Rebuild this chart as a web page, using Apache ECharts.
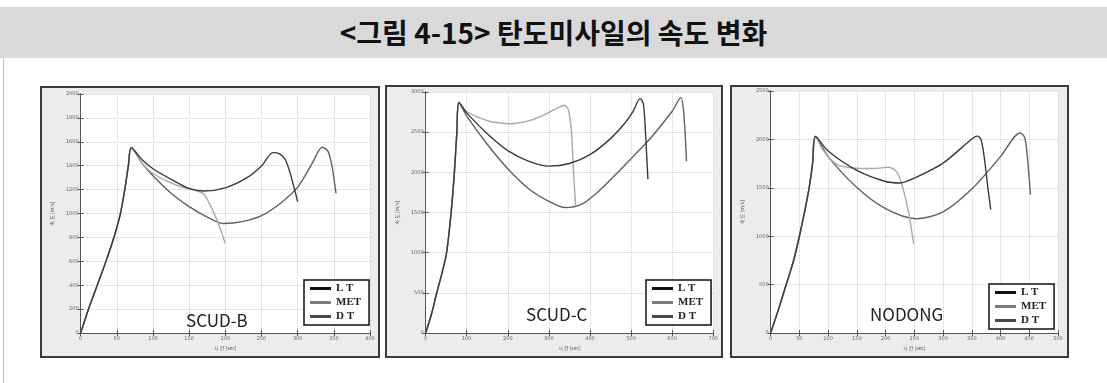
<!DOCTYPE html>
<html>
<head>
<meta charset="utf-8">
<script src="https://cdn.jsdelivr.net/npm/echarts@6/dist/echarts.min.js"></script>
<style>
  html, body { margin: 0; padding: 0; background: #fff; width: 1107px; height: 383px; overflow: hidden; }
  #head {
    position: absolute; left: 0; top: 7px; width: 1107px; height: 51px;
    background: #d9d9d9; text-align: center; line-height: 51px;
    font-family: "Noto Sans CJK KR", sans-serif; font-weight: bold; font-size: 28px; color: #111;
  }
  #edge { position: absolute; left: 3px; top: 58px; width: 1px; height: 325px; background: #bdbdbd; }
  .panel { position: absolute; box-sizing: border-box; border: 2px solid #3a3a3a; background: #ececec; }
</style>
</head>
<body>
<div id="head">&lt;그림 4-15&gt; 탄도미사일의 속도 변화</div>
<div id="edge"></div>
<div id="p1" class="panel" style="left:40px;top:86px;width:340px;height:272px;"></div>
<div id="p2" class="panel" style="left:385px;top:85px;width:338px;height:273px;"></div>
<div id="p3" class="panel" style="left:730px;top:85px;width:339px;height:273px;"></div>
<script>
// Series names
const seriesNames = ['LT', 'MET', 'DT'];

// SCUD-B: time [sec], speed [m/s]
const scudBRise = [[0,0],[12,220],[23,400],[35,600],[46,800],[55,1000],[61,1200],[66,1400],[70,1550]];
const scudB_LT  = [[85,1450],[100,1375],[130,1270],[150,1210],[170,1188],[200,1215],[230,1300],[250,1398],[266,1510],[275,1500],[283,1450],[290,1330],[300,1100]];
const scudB_MET = [[85,1420],[100,1335],[120,1270],[140,1222],[160,1190],[170,1165],[180,1060],[190,920],[200,750]];
const scudB_DT  = [[85,1420],[100,1316],[125,1170],[150,1058],[175,970],[197,917],[225,935],[250,982],[275,1080],[300,1221],[320,1420],[334,1555],[342,1520],[348,1380],[353,1170]];

// SCUD-C
const scudCRise = [[0,0],[15,250],[27,500],[40,750],[51,1000],[62,1500],[70,2000],[76,2500],[81,2870]];
const scudC_LT  = [[100,2740],[150,2480],[200,2270],[250,2140],[300,2078],[350,2110],[400,2220],[450,2420],[486,2620],[505,2760],[522,2918],[530,2850],[535,2500],[541,1914]];
const scudC_MET = [[100,2760],[130,2680],[160,2630],[205,2605],[250,2640],[290,2720],[320,2800],[338,2835],[348,2770],[355,2500],[360,2000],[365,1590]];
const scudC_DT  = [[100,2700],[150,2350],[200,2045],[250,1800],[300,1640],[340,1562],[380,1605],[420,1760],[460,1960],[500,2170],[550,2440],[600,2760],[621,2930],[628,2750],[635,2140]];

// NODONG
const nodongRise = [[0,0],[14,250],[27,500],[40,750],[50,1000],[60,1280],[67,1500],[73,1750],[78,2030]];
const nodong_LT  = [[100,1880],[150,1680],[200,1565],[225,1550],[250,1600],[300,1755],[350,2005],[359,2034],[366,2000],[372,1800],[378,1500],[383,1275]];
const nodong_MET = [[90,1900],[105,1790],[120,1730],[150,1702],[180,1700],[205,1712],[220,1660],[230,1500],[240,1250],[249,916]];
const nodong_DT  = [[100,1822],[150,1503],[200,1285],[253,1181],[300,1252],[350,1487],[400,1822],[434,2067],[442,2020],[447,1800],[452,1430]];

const lineColors = { LT: '#3a3a3a', MET: '#a9a9a9', DT: '#616161' };
const legendColors = { LT: '#111111', MET: '#7a7a7a', DT: '#4a4a4a' };
const legendLabels = { LT: 'L T', MET: 'MET', DT: 'D T' };

function panelOption(cfg) {
  const axisLine = { show: true, lineStyle: { color: '#555', width: 1 } };
  const tick = { show: true, inside: true, length: 3, lineStyle: { color: '#555' } };
  const label = { fontSize: 5, color: '#666', fontFamily: 'DejaVu Sans', formatter: v => String(v) };
  const split = { show: true, lineStyle: { color: '#cfcfcf', type: 'dotted', width: 1 } };
  const lines = { LT: cfg.lt, MET: cfg.met, DT: cfg.dt };
  const order = ['DT', 'MET', 'LT'];
  return {
    animation: false,
    title: {
      text: cfg.name, left: cfg.titleLeft, top: cfg.titleTop, padding: 0,
      textStyle: { fontFamily: '"Noto Sans CJK KR", "Noto Sans", sans-serif', fontWeight: 'normal', fontSize: 17, color: '#222' }
    },
    grid: Object.assign({ show: true, backgroundColor: '#ffffff', borderWidth: 0 }, cfg.grid),
    legend: {
      data: seriesNames.map(n => ({ name: n, icon: 'rect', itemStyle: { color: legendColors[n] } })),
      formatter: n => legendLabels[n],
      orient: 'vertical', left: cfg.legendLeft, top: cfg.legendTop,
      itemWidth: 21, itemHeight: 3, itemGap: 3,
      padding: [3, 8, 3, 6],
      backgroundColor: '#ffffff', borderColor: '#111', borderWidth: 1.5, borderRadius: 0,
      textStyle: { fontFamily: '"Liberation Serif", "DejaVu Serif", serif', fontWeight: 'bold', fontSize: 11, color: '#222' },
      selectedMode: false
    },
    xAxis: [
      { type: 'value', min: 0, max: cfg.xMax, interval: cfg.xStep, position: 'bottom',
        name: '시 간 [sec]', nameLocation: 'middle', nameGap: 10,
        nameTextStyle: { fontSize: 5, color: '#555', fontFamily: '"Noto Sans CJK KR"' },
        axisLine, axisTick: tick, axisLabel: Object.assign({ margin: 3 }, label), splitLine: split },
      { type: 'value', min: 0, max: cfg.xMax, interval: cfg.xStep, position: 'top',
        axisLine, axisTick: tick, axisLabel: { show: false }, splitLine: { show: false } }
    ],
    yAxis: [
      { type: 'value', min: 0, max: cfg.yMax, interval: cfg.yStep, position: 'left',
        name: '속 도 [m/s]', nameLocation: 'middle', nameGap: cfg.yNameGap, nameRotate: 90,
        nameTextStyle: { fontSize: 5, color: '#555', fontFamily: '"Noto Sans CJK KR"' },
        axisLine, axisTick: tick, axisLabel: Object.assign({ margin: 2 }, label), splitLine: split },
      { type: 'value', min: 0, max: cfg.yMax, interval: cfg.yStep, position: 'right',
        axisLine, axisTick: tick, axisLabel: { show: false }, splitLine: { show: false } }
    ],
    series: order.map(n => ({
      name: n, type: 'line', xAxisIndex: 0, yAxisIndex: 0,
      data: cfg.rise.concat(lines[n]),
      smooth: 0.3, showSymbol: false, symbol: 'none',
      lineStyle: { color: lineColors[n], width: 1.4 },
      itemStyle: { color: lineColors[n] }
    }))
  };
}

const panels = [
  { el: 'p1', name: 'SCUD-B', rise: scudBRise, lt: scudB_LT, met: scudB_MET, dt: scudB_DT,
    xMax: 400, xStep: 50, yMax: 2000, yStep: 200,
    grid: { left: 25, top: 6, right: 8, bottom: 16 }, yNameGap: 17,
    legendLeft: 262, legendTop: 192, titleLeft: 144, titleTop: 224 },
  { el: 'p2', name: 'SCUD-C', rise: scudCRise, lt: scudC_LT, met: scudC_MET, dt: scudC_DT,
    xMax: 700, xStep: 100, yMax: 3000, yStep: 500,
    grid: { left: 17, top: 5, right: 6, bottom: 19 }, yNameGap: 13,
    legendLeft: 259, legendTop: 193, titleLeft: 139, titleTop: 219 },
  { el: 'p3', name: 'NODONG', rise: nodongRise, lt: nodong_LT, met: nodong_MET, dt: nodong_DT,
    xMax: 500, xStep: 50, yMax: 2500, yStep: 500,
    grid: { left: 22, top: 4, right: 9, bottom: 17 }, yNameGap: 15,
    legendLeft: 257, legendTop: 197, titleLeft: 138, titleTop: 219 }
];

panels.forEach(p => {
  const chart = echarts.init(document.getElementById(p.el), null, { renderer: 'canvas' });
  chart.setOption(panelOption(p));
});
</script>
</body>
</html>
